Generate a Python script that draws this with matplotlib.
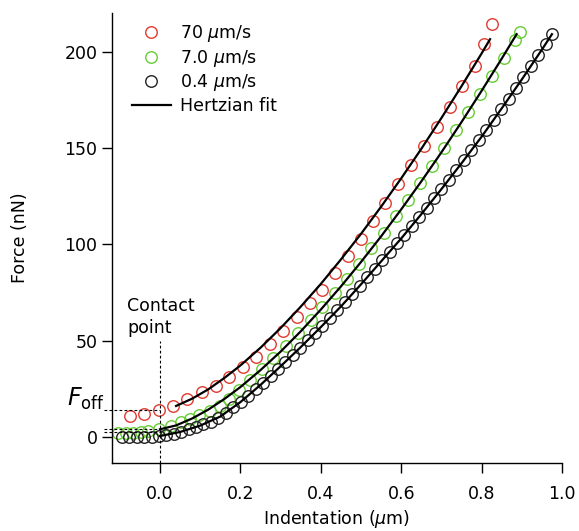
import matplotlib
matplotlib.use("Agg")
import matplotlib.pyplot as plt

plt.rcParams['font.family'] = ['DejaVu Sans']
plt.rcParams['mathtext.fontset'] = 'dejavusans'

# 70 um/s (red)
red_x = [-0.075, -0.039, -0.002, 0.032, 0.068, 0.104, 0.139, 0.172, 0.207, 0.239,
         0.274, 0.307, 0.341, 0.373, 0.402, 0.435, 0.468, 0.500, 0.531, 0.560,
         0.591, 0.624, 0.657, 0.690, 0.721, 0.752, 0.783, 0.807, 0.825]
red_f = [10.9, 11.9, 14.0, 16.3, 19.7, 23.2, 26.6, 31.0, 36.2, 41.7,
         48.1, 55.0, 62.2, 69.4, 76.3, 85.0, 93.9, 102.8, 112.3, 121.6,
         131.5, 141.2, 151.0, 161.1, 171.4, 182.0, 192.7, 203.8, 214.2]

# 7.0 um/s (green)
green_x = [-0.104, -0.085, -0.066, -0.047, -0.029, -0.002, 0.027, 0.052, 0.075, 0.098,
           0.124, 0.149, 0.172, 0.197, 0.224, 0.253, 0.282, 0.313, 0.344, 0.375,
           0.404, 0.435, 0.465, 0.495, 0.526, 0.556, 0.586, 0.616, 0.646, 0.676,
           0.706, 0.736, 0.766, 0.796, 0.826, 0.856, 0.883, 0.896]
green_f = [1.9, 2.0, 2.3, 2.7, 3.1, 4.3, 5.9, 7.6, 9.3, 11.2,
           13.7, 16.0, 19.8, 24.5, 29.8, 35.3, 41.0, 47.2, 53.8, 60.8,
           67.4, 74.8, 82.2, 89.8, 98.0, 106.0, 114.6, 123.0, 131.6, 140.8,
           150.0, 159.3, 168.6, 178.0, 187.4, 196.9, 206.0, 210.0]

# 0.4 um/s (black)
black_x = [-0.095, -0.077, -0.058, -0.040, -0.021, -0.003, 0.016, 0.034, 0.053, 0.071,
           0.090, 0.108, 0.127, 0.145, 0.164, 0.182, 0.201, 0.219, 0.238, 0.256,
           0.275, 0.293, 0.312, 0.330, 0.349, 0.367, 0.386, 0.404, 0.423, 0.441,
           0.460, 0.478, 0.497, 0.515, 0.534, 0.552, 0.571, 0.589, 0.608, 0.626,
           0.645, 0.663, 0.682, 0.700, 0.719, 0.737, 0.756, 0.774, 0.793, 0.811,
           0.830, 0.848, 0.867, 0.885, 0.904, 0.922, 0.941, 0.959, 0.975]
black_f = [0.0, 0.0, 0.0, 0.1, 0.2, 0.5, 1.0, 1.8, 2.8, 3.9,
           5.1, 6.5, 8.0, 10.0, 12.5, 15.3, 18.3, 21.4, 24.7, 28.0,
           31.6, 35.2, 38.9, 42.6, 46.4, 50.2, 54.0, 57.8, 61.8, 65.9,
           70.0, 74.2, 78.5, 82.8, 87.2, 91.6, 96.0, 100.4, 105.0, 109.6,
           114.3, 119.0, 123.8, 128.6, 133.6, 138.5, 143.6, 148.7, 153.9, 159.2,
           164.6, 170.0, 175.5, 181.0, 186.7, 192.4, 198.2, 204.0, 209.0]

# Hertzian fit curves
fit_red_x = [0.04, 0.08, 0.12, 0.16, 0.2, 0.25, 0.3, 0.35, 0.4, 0.45,
             0.5, 0.55, 0.6, 0.65, 0.7, 0.75, 0.8, 0.821]
fit_red_f = [16.1, 19.9, 24.7, 30.6, 37.1, 46.3, 56.5, 67.6, 79.4, 92.1,
             105.4, 119.5, 134.2, 149.5, 165.5, 182.0, 199.0, 206.4]
fit_green_x = [0.0, 0.04, 0.08, 0.12, 0.16, 0.2, 0.25, 0.3, 0.35, 0.4,
               0.45, 0.5, 0.55, 0.6, 0.65, 0.7, 0.75, 0.8, 0.85, 0.887]
fit_green_f = [4.0, 6.0, 9.6, 14.2, 19.7, 25.9, 34.7, 44.3, 54.8, 66.1,
               78.1, 90.8, 104.1, 118.1, 132.6, 147.7, 163.4, 179.6, 196.3, 209.0]
fit_black_x = [0.0, 0.05, 0.1, 0.15, 0.2, 0.25, 0.3, 0.35, 0.4, 0.45,
               0.5, 0.55, 0.6, 0.65, 0.7, 0.75, 0.8, 0.85, 0.9, 0.95, 0.975]
fit_black_f = [0.5, 2.6, 5.9, 10.6, 18.1, 27.0, 36.7, 46.6, 57.0, 67.7,
               79.2, 91.1, 103.0, 115.6, 128.6, 142.0, 155.8, 170.5, 185.5, 201.0, 209.0]

# offsets / contact point
f_off_red = 14.0
f_off_green = 4.2
f_off_black = 2.8

labels = ['70 $\\mu$m/s', '7.0 $\\mu$m/s', '0.4 $\\mu$m/s', 'Hertzian fit']
red = '#e03a30'
green = '#66cc33'
black = '#222222'

fig = plt.figure(figsize=(5.79, 5.31), dpi=100)
ax = fig.add_axes([112 / 579, 68 / 531, 450 / 579, 450 / 531])

ms = 8.3
mew = 1.0
ax.plot(red_x, red_f, 'o', mfc='none', mec=red, ms=ms, mew=mew, label=labels[0])
ax.plot(green_x, green_f, 'o', mfc='none', mec=green, ms=ms, mew=mew, label=labels[1])
ax.plot(black_x, black_f, 'o', mfc='none', mec=black, ms=ms, mew=mew, label=labels[2])

ax.plot(fit_red_x, fit_red_f, color='black', lw=1.6, label=labels[3])
ax.plot(fit_green_x, fit_green_f, color='black', lw=1.6)
ax.plot(fit_black_x, fit_black_f, color='black', lw=1.6)

# dashed guides
dash = dict(color='black', lw=0.8, ls=(0, (2.5, 2)), clip_on=False)
ax.plot([0, 0], [-13.5, 50], **dash)
for fo in [f_off_red, f_off_green, f_off_black]:
    ax.plot([-0.139, 0], [fo, fo], **dash)

ax.text(-0.082, 52, 'Contact\npoint', fontsize=12.5, ha='left', va='bottom',
        linespacing=1.25)
ax.text(-0.138, 16.0, '$F_{\\mathrm{off}}$', fontsize=17, ha='right',
        va='baseline')

ax.set_xlim(-0.1194, 1.0)
ax.set_ylim(-13.5, 220)
ax.set_xticks([0.0, 0.2, 0.4, 0.6, 0.8, 1.0])
ax.set_xticklabels(['0.0', '0.2', '0.4', '0.6', '0.8', '1.0'])
ax.set_yticks([0, 50, 100, 150, 200])

for s in ['top', 'right']:
    ax.spines[s].set_visible(False)
for s in ['left', 'bottom']:
    ax.spines[s].set_linewidth(1.0)
ax.tick_params(axis='both', direction='out', length=7.5, width=1.0, labelsize=12.5)
ax.tick_params(axis='x', pad=8)
ax.tick_params(axis='y', pad=3)

ax.set_xlabel('Indentation ($\\mu$m)', fontsize=12.5, labelpad=4)
ax.set_ylabel('Force (nN)', fontsize=12.5)
ax.yaxis.set_label_coords(-0.185, 0.5)

ax.legend(loc='upper left', bbox_to_anchor=(0.044, 0.977), frameon=False,
          fontsize=12.5, handlelength=2.25, handletextpad=0.5,
          labelspacing=0.2, borderpad=0, borderaxespad=0)

fig.savefig('out.png', dpi=100)
